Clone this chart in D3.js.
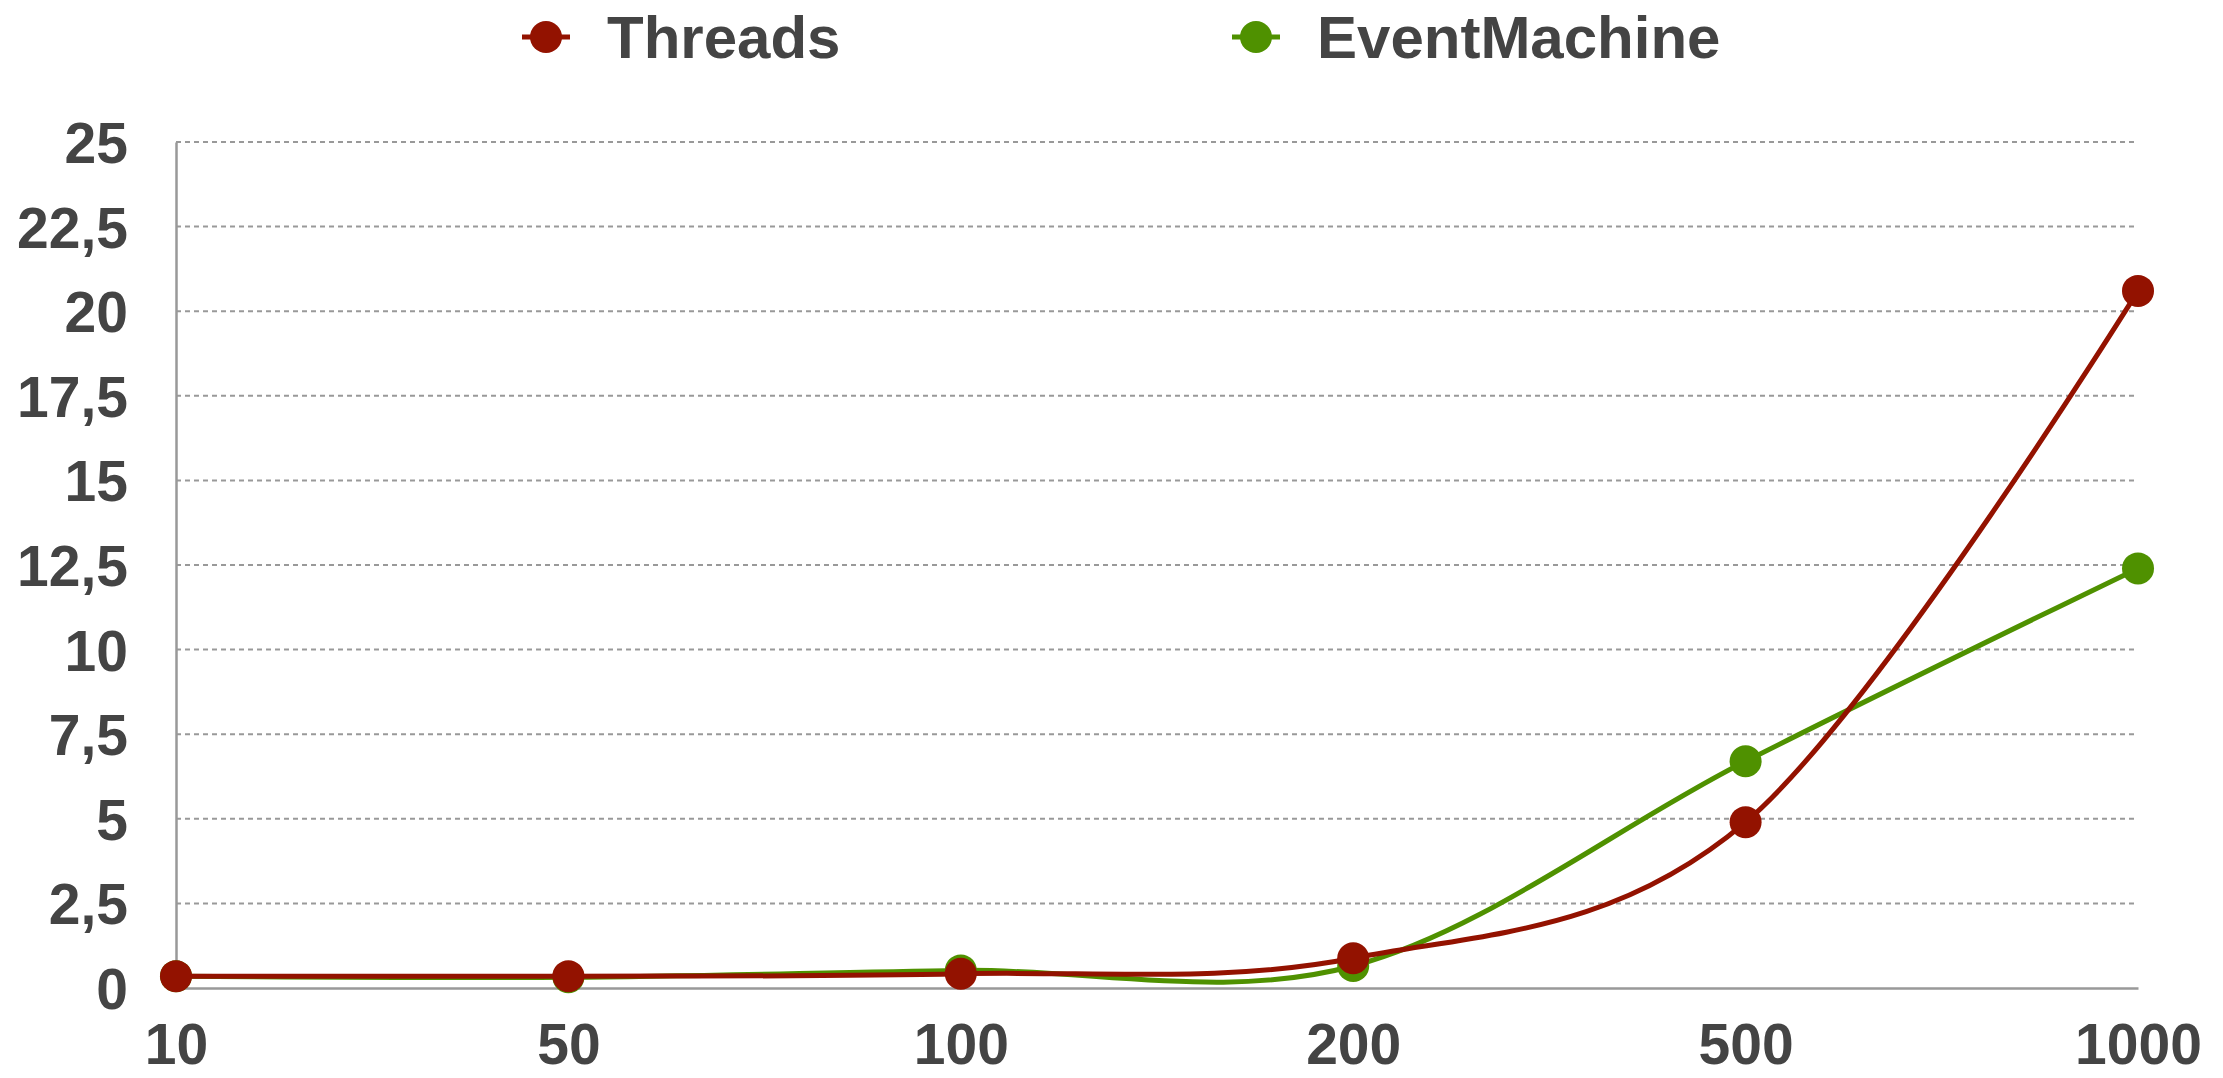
<!DOCTYPE html>
<html>
<head>
<meta charset="utf-8">
<script src="https://cdn.jsdelivr.net/npm/d3@7"></script>
<style>
  html, body { margin: 0; padding: 0; background: #ffffff; }
  svg { display: block; }
  text { font-family: "Liberation Sans", Arial, Helvetica, sans-serif; font-weight: bold; fill: #444444; }
</style>
</head>
<body>
<svg id="chart" width="2223" height="1078"></svg>
<script>
// Number of concurrent connections (x categories)
const categories = ["10", "50", "100", "200", "500", "1000"];
// Response time per series
const threadsValues = [0.35, 0.35, 0.42, 0.88, 4.9, 20.6];
const eventMachineValues = [0.35, 0.32, 0.52, 0.65, 6.7, 12.4];
// Y axis tick values
const yTicks = [0, 2.5, 5, 7.5, 10, 12.5, 15, 17.5, 20, 22.5, 25];

const seriesNames = ["Threads", "EventMachine"];
const seriesColors = ["#931200", "#4f9100"];

const svg = d3.select("#chart");

const x = d3.scalePoint().domain(categories).range([176, 2138]).padding(0);
const y = d3.scaleLinear().domain([0, 25]).range([988, 142]);

// Decimal comma formatting for the value axis
const locale = d3.formatLocale({ decimal: ",", thousands: ".", grouping: [3], currency: ["", "€"] });
const fmt = locale.format("~g");

// Horizontal dashed gridlines
svg.append("g")
  .selectAll("line")
  .data(yTicks.filter(d => d > 0))
  .join("line")
  .attr("x1", x.range()[0])
  .attr("x2", x.range()[1])
  .attr("y1", d => y(d))
  .attr("y2", d => y(d))
  .attr("stroke", "#999999")
  .attr("stroke-width", 2)
  .attr("stroke-dasharray", "5,4");

// Y axis
const yAxis = svg.append("g")
  .attr("transform", `translate(${x.range()[0]},0)`)
  .call(d3.axisLeft(y).tickValues(yTicks).tickFormat(fmt).tickSize(0).tickPadding(48));
yAxis.select(".domain").attr("stroke", "#999999").attr("stroke-width", 2.5);
yAxis.selectAll("text")
  .attr("font-size", 57)
  .attr("font-family", "Liberation Sans, Arial, sans-serif")
  .attr("font-weight", "bold")
  .attr("fill", "#444444")
  .attr("dy", "0.36em");

// X axis
const xAxis = svg.append("g")
  .attr("transform", `translate(0,${y(0)})`)
  .call(d3.axisBottom(x).tickSize(0).tickPadding(0));
xAxis.select(".domain").attr("stroke", "#999999").attr("stroke-width", 2.5);
xAxis.selectAll("text")
  .attr("font-size", 57)
  .attr("font-family", "Liberation Sans, Arial, sans-serif")
  .attr("font-weight", "bold")
  .attr("fill", "#444444")
  .attr("dy", null)
  .attr("y", 76);

// Smoothed lines through each data point
const line = d3.line()
  .x((d, i) => x(categories[i]))
  .y(d => y(d))
  .curve(d3.curveCardinal.tension(0));

const series = [
  { name: seriesNames[1], values: eventMachineValues, color: seriesColors[1] },
  { name: seriesNames[0], values: threadsValues, color: seriesColors[0] }
];

series.forEach(s => {
  const g = svg.append("g");
  g.append("path")
    .datum(s.values)
    .attr("d", line)
    .attr("fill", "none")
    .attr("stroke", s.color)
    .attr("stroke-width", 5)
    .attr("stroke-linejoin", "round");
  g.selectAll("circle")
    .data(s.values)
    .join("circle")
    .attr("cx", (d, i) => x(categories[i]))
    .attr("cy", d => y(d))
    .attr("r", 16)
    .attr("fill", s.color);
});

// Legend
const legendX = [546, 1256];
const legend = svg.append("g");
seriesNames.forEach((name, i) => {
  const lg = legend.append("g").attr("transform", `translate(${legendX[i]},37)`);
  lg.append("line")
    .attr("x1", -24).attr("x2", 24)
    .attr("stroke", seriesColors[i]).attr("stroke-width", 5);
  lg.append("circle").attr("r", 16).attr("fill", seriesColors[i]);
  lg.append("text")
    .attr("x", 61)
    .attr("y", 21)
    .attr("font-size", 60)
    .text(name);
});
</script>
</body>
</html>
